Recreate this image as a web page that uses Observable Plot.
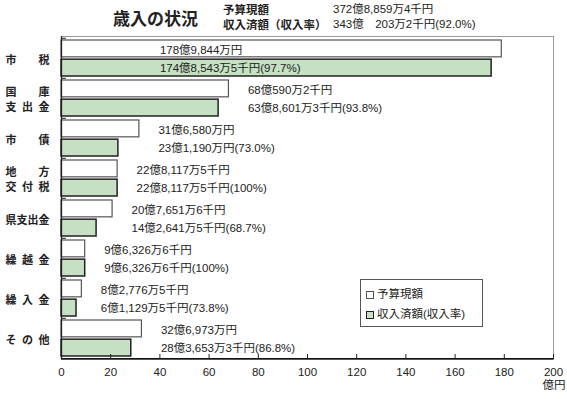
<!DOCTYPE html>
<html><head><meta charset="utf-8">
<script src="https://cdn.jsdelivr.net/npm/d3@7"></script>
<script src="https://cdn.jsdelivr.net/npm/@observablehq/plot@0.6"></script>
<style>
body{margin:0;background:#fff;}
#wrap{position:relative;width:567px;height:399px;font-family:"Liberation Sans","Noto Sans CJK JP",sans-serif;color:#222;}
.abs{position:absolute;white-space:nowrap;line-height:1;}
#chart{position:absolute;left:0;top:0;}
.sw{display:inline-block;width:8px;height:8px;box-sizing:border-box;margin-right:3px;vertical-align:-1px;}
</style></head><body><div id="wrap"><div id="chart"></div></div>
<script>
const title = "歳入の状況";
const summaryLabels = ["予算現額", "収入済額（収入率）"];
const summaryValues = ["372億8,859万4千円", "343億　203万2千円(92.0%)"];
const categories = ["市税", "国庫支出金", "市債", "地方交付税", "県支出金", "繰越金", "繰入金", "その他"];
const categoryLabels = ["市　　税", "国　　庫\n支\u2002出\u2002金", "市　　債", "地　　方\n交\u2002付\u2002税", "県支出金", "繰\u2002越\u2002金", "繰\u2002入\u2002金", "そ\u2002の\u2002他"];
const budget = [178.9844, 68.05902, 31.6580, 22.81175, 20.76516, 9.63266, 8.27765, 32.6973];
const revenue = [174.85435, 63.86013, 23.1190, 22.81175, 14.26415, 9.63266, 6.11295, 28.36533];
const budgetText = ["178億9,844万円", "68億590万2千円", "31億6,580万円", "22億8,117万5千円", "20億7,651万6千円", "9億6,326万6千円", "8億2,776万5千円", "32億6,973万円"];
const revenueText = ["174億8,543万5千円(97.7%)", "63億8,601万3千円(93.8%)", "23億1,190万円(73.0%)", "22億8,117万5千円(100%)", "14億2,641万5千円(68.7%)", "9億6,326万6千円(100%)", "6億1,129万5千円(73.8%)", "28億3,653万3千円(86.8%)"];
const xTicks = [0, 20, 40, 60, 80, 100, 120, 140, 160, 180, 200];
const unitLabel = "億円";
const seriesNames = ["予算現額", "収入済額(収入率)"];

const rows = categories.map((c, i) => ({category: c, label: categoryLabels[i], budget: budget[i], revenue: revenue[i], bt: budgetText[i], rt: revenueText[i]}));

const W = 567, H = 399, mL = 61, mR = 14, mT = 36, mB = 40;
const innerH = H - mT - mB;
const step = innerH / categories.length;
const pad = 0.1;
const half = step * (1 - pad) / 2;
const green = "#c5e0c2";
const insideAt = 40;
const isLong = d => d.budget > 150;

const chart = Plot.plot({
  width: W, height: H, marginLeft: mL, marginRight: mR, marginTop: mT, marginBottom: mB,
  x: {domain: [0, 200], label: null},
  y: {domain: categories, paddingInner: pad, paddingOuter: pad / 2, axis: null},
  style: {fontFamily: '"Liberation Sans","Noto Sans CJK JP",sans-serif', fontSize: "11.5px", color: "#222", background: "white"},
  marks: [
    Plot.frame({stroke: "#9a9a9a"}),
    Plot.barX(rows, {y: "category", x: "budget", fill: "white", stroke: "#555", strokeWidth: 1.2, insetBottom: half + 1}),
    Plot.barX(rows, {y: "category", x: "revenue", fill: green, stroke: "#222", strokeWidth: 1.5, insetTop: half + 1}),
    Plot.text(rows, {filter: d => !isLong(d), x: "budget", y: "category", text: "bt", dx: 19, dy: -8.5, textAnchor: "start", fill: "#222"}),
    Plot.text(rows, {filter: d => !isLong(d), x: "budget", y: "category", text: "rt", dx: 19, dy: 9.5, textAnchor: "start", fill: "#222"}),
    Plot.text(rows, {filter: isLong, x: insideAt, y: "category", text: "bt", dy: -8.5, textAnchor: "start", fill: "#222"}),
    Plot.text(rows, {filter: isLong, x: insideAt, y: "category", text: "rt", dy: 9.5, textAnchor: "start", fill: "#222"}),
    Plot.text(rows, {y: "category", text: "label", frameAnchor: "left", textAnchor: "start", dx: -56, dy: 0, lineHeight: 1.42, fontWeight: "bold", fontSize: 11, fontFamily: '"Noto Sans CJK JP",sans-serif', fill: "#222"}),
    Plot.ruleY(rows, {y: "category", x1: 0, x2: 2, dy: -step / 2, stroke: "#222"}),
    Plot.ruleY([categories[categories.length - 1]], {dy: step / 2, stroke: "#111", strokeWidth: 1.5}),
    Plot.ruleX([0], {stroke: "#222", strokeWidth: 1.3}),
    Plot.ruleX(xTicks, {x: d => d, insetTop: innerH - 5, stroke: "#222"}),
    Plot.axisX({ticks: xTicks, tickSize: 0, tickPadding: 8, fontSize: 11.5, fill: "#222"}),
    Plot.text([unitLabel], {text: d => d, frameAnchor: "bottom-right", dx: 12, dy: 29, textAnchor: "end", fill: "#222"})
  ]
});
document.getElementById("chart").appendChild(chart);

const wrap = document.getElementById("wrap");
function add(html, style) {
  const d = document.createElement("div");
  d.className = "abs";
  d.style.cssText = style;
  d.innerHTML = html;
  wrap.appendChild(d);
  return d;
}
add(title, "left:113px;top:9px;font-size:17px;font-weight:bold;font-family:'Noto Sans CJK JP',sans-serif;");
add(summaryLabels[0], "left:223px;top:4px;font-size:11.5px;font-weight:bold;font-family:'Noto Sans CJK JP',sans-serif;");
add(summaryLabels[1], "left:223px;top:19px;font-size:11.5px;font-weight:bold;font-family:'Noto Sans CJK JP',sans-serif;");
add(summaryValues[0], "left:333px;top:4px;font-size:11.5px;");
add(summaryValues[1], "left:333px;top:19px;font-size:11.5px;");
const leg = add("", "left:360px;top:279px;width:123px;height:48px;border:1px solid #555;box-sizing:border-box;background:#fff;font-size:11.5px;");
leg.innerHTML = `<div style="position:absolute;left:5px;top:9px;"><span class="sw" style="border:1px solid #555;background:#fff"></span>${seriesNames[0]}</div>
<div style="position:absolute;left:5px;top:29px;"><span class="sw" style="border:1px solid #222;background:${green}"></span>${seriesNames[1]}</div>`;
</script>
</body></html>
